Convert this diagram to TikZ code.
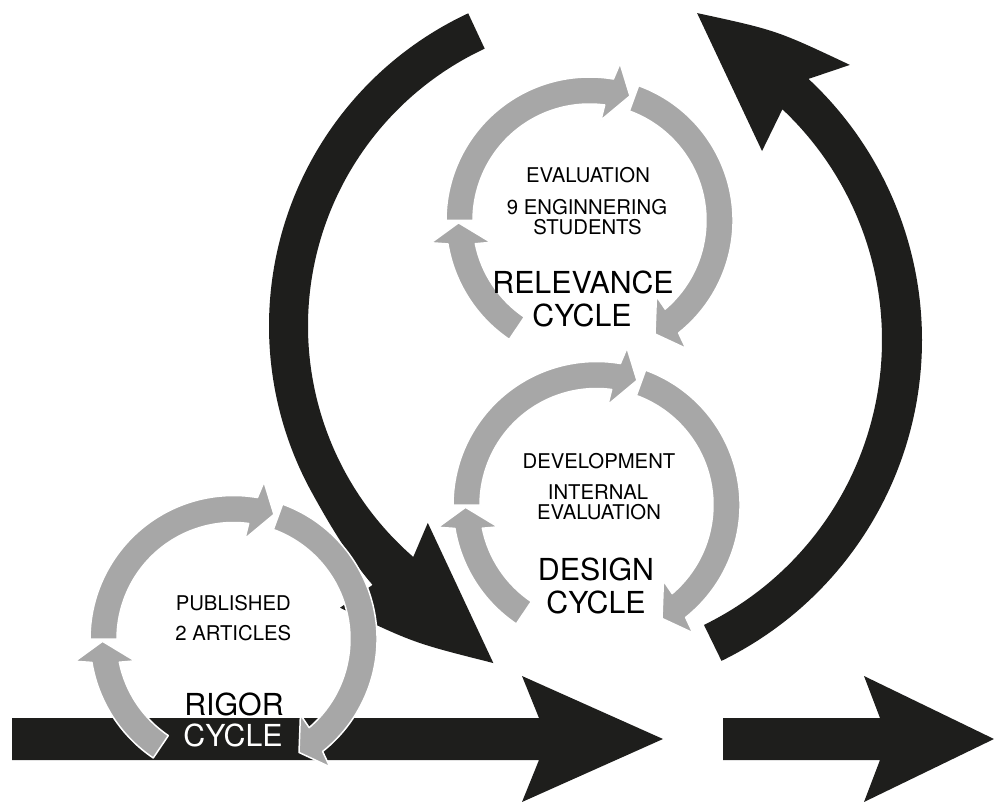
\documentclass[tikz,border=0pt]{standalone}
\usepackage{fontspec}
\setmainfont{TeX Gyre Heros}
\definecolor{arrowblack}{RGB}{30,30,28}
\definecolor{ringgray}{RGB}{167,167,167}
\tikzset{
  blackshape/.style={fill=arrowblack},
  ringshape/.style={fill=ringgray, draw=white, line width=1.5pt, line join=round},
  smalltxt/.style={font=\fontsize{20.3}{22}\selectfont, inner sep=0pt, text=black},
  bigtxt/.style={font=\fontsize{30.3}{32}\selectfont, inner sep=0pt, text=black},
}
% one segment of a grey cycle: start angle #1, head angle #2 (y axis points down)
\newcommand\ringseg[2]{%
  \filldraw[ringshape] (#1:143.5) arc[start angle=#1, end angle={#2-1.4}, radius=143.5]
    -- ({#2}:160) -- ({#2+7}:131) -- ({#2-4.5}:101) -- ({#2-3.5}:116.5)
    arc[start angle={#2-3.5}, end angle=#1, radius=116.5] -- cycle;}
\newcommand\cyclering[1]{%
  \begin{scope}[shift={(#1)}]
    \ringseg{180}{281}\ringseg{290}{413}\ringseg{124}{172}
  \end{scope}}
\begin{document}
\begin{tikzpicture}[x=1pt,y=-1pt]
\useasboundingbox (0,0) rectangle (994,802);
% straight process arrows
\fill[blackshape] (12,718) -- (539,718) -- (522,676) -- (663,739) -- (522,802) -- (539,760) -- (12,760) -- cycle;
\fill[blackshape] (723,718) -- (880,718) -- (864,676) -- (994,739) -- (864,802) -- (880,760) -- (723,760) -- cycle;
% big left curved arrow
\begin{scope}[shift={(614,326)}]
  \fill[blackshape] (245:345) arc[start angle=245, end angle=152, radius=345]
    .. controls (144:348) and (138:352) .. (133:354)
    -- (134.2:393) .. controls (122.3:375) and (122.3:375) .. (109.7:358)
    -- (133.4:271) -- (131:306) arc[start angle=131, end angle=245, radius=306] -- cycle;
\end{scope}
% big right curved arrow
\begin{scope}[shift={(565,340)}]
  \fill[blackshape] (64:357) arc[start angle=64, end angle=-47, radius=357]
    -- (-44:396) .. controls (-55.7:375) and (-55.7:375) .. (-68:352.6)
    -- (-43.8:273) -- (-46.7:317) arc[start angle=-46.7, end angle=64, radius=317] -- cycle;
\end{scope}
% grey cycles
\cyclering{589.5,220.5}
\cyclering{596.5,505}
\cyclering{233.5,639}
% texts
\node[smalltxt] (rel1) at (588,175) {EVALUATION};
\node[smalltxt] (rel2) at (587,206.7) {9 ENGINNERING};
\node[smalltxt] (rel3) at (587.5,226.7) {STUDENTS};
\node[bigtxt] (rel4) at (583,282.5) {RELEVANCE};
\node[bigtxt] (rel5) at (582,315.7) {CYCLE};
\node[smalltxt] (des1) at (599,460.8) {DEVELOPMENT};
\node[smalltxt] (des2) at (598,491.7) {INTERNAL};
\node[smalltxt] (des3) at (599,511.7) {EVALUATION};
\node[bigtxt] (des4) at (596,569) {DESIGN};
\node[bigtxt] (des5) at (596,602.5) {CYCLE};
\node[smalltxt] (rig1) at (233.3,603.3) {PUBLISHED};
\node[smalltxt] (rig2) at (233.3,633.3) {2 ARTICLES};
\node[bigtxt] (rig3) at (234,704) {RIGOR};
\node[bigtxt, text=white] (rig4) at (233,735.8) {CYCLE};
\end{tikzpicture}
\end{document}
